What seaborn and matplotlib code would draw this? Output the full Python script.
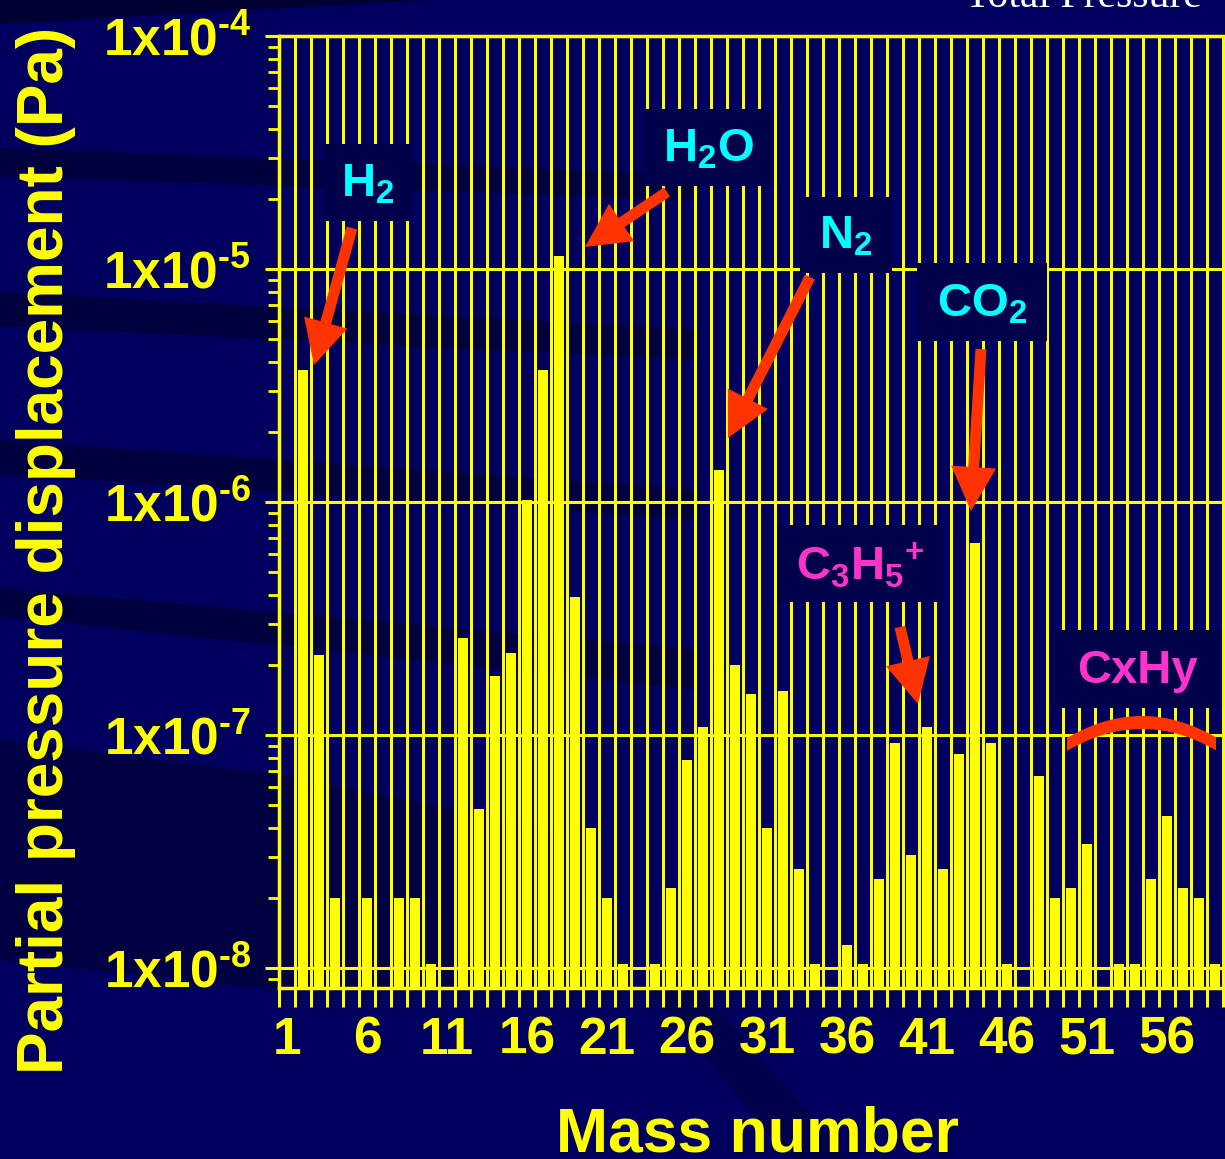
import numpy as np
import pandas as pd
import matplotlib
matplotlib.use("Agg")
import matplotlib.pyplot as plt
import seaborn as sns
from matplotlib.patches import Rectangle, Polygon, FancyArrow
from matplotlib.ticker import LogLocator, NullFormatter, FixedLocator

nan = np.nan

# ---------------- data ----------------
mass = list(range(1, 61))
pressure = [nan, 3.7e-6, 2.2e-7, 2.0e-8, nan, 2.0e-8, nan, 2.0e-8, 2.0e-8, 1.04e-8,
            nan, 2.6e-7, 4.8e-8, 1.8e-7, 2.25e-7, 1.02e-6, 3.7e-6, 1.14e-5, 3.9e-7, 4.0e-8,
            2.0e-8, 1.04e-8, nan, 1.04e-8, 2.2e-8, 7.8e-8, 1.08e-7, 1.37e-6, 2.0e-7, 1.5e-7,
            4.0e-8, 1.55e-7, 2.67e-8, 1.04e-8, nan, 1.25e-8, 1.04e-8, 2.4e-8, 9.2e-8, 3.05e-8,
            1.08e-7, 2.67e-8, 8.3e-8, 6.7e-7, 9.2e-8, 1.04e-8, nan, 6.7e-8, 2.0e-8, 2.2e-8,
            3.4e-8, nan, 1.04e-8, 1.04e-8, 2.4e-8, 4.5e-8, 2.2e-8, 2.0e-8, 1.04e-8, 3.2e-8]
x_tick_pos = [1, 6, 11, 16, 21, 26, 31, 36, 41, 46, 51, 56]
x_tick_labels = [str(v) for v in x_tick_pos]
y_tick_vals = [1e-8, 1e-7, 1e-6, 1e-5, 1e-4]
y_tick_labels = ["1x10$^{\u20108}$", "1x10$^{\u20107}$", "1x10$^{\u20106}$",
                 "1x10$^{\u20105}$", "1x10$^{\u20104}$"]
x_label = "Mass number"
y_label = "Partial pressure displacement (Pa)"

species = ["H$_{2}$", "H$_{2}$O", "N$_{2}$", "CO$_{2}$", "C$_{3}$H$_{5}{}^{+}$", "CxHy"]
species_colors = ["#00FFFF", "#00FFFF", "#00FFFF", "#00FFFF", "#FF33CC", "#FF33CC"]

# ---------------- style ----------------
BG = "#00005E"
YEL = "#FFFF00"
ARROW = "#FF3300"
BOX = "#00004A"

plt.rcParams["font.family"] = ["Liberation Sans", "DejaVu Sans"]
plt.rcParams["font.weight"] = "bold"
plt.rcParams["mathtext.fontset"] = "custom"
plt.rcParams["mathtext.rm"] = "Liberation Sans:bold"
plt.rcParams["mathtext.bf"] = "Liberation Sans:bold"
plt.rcParams["mathtext.it"] = "Liberation Sans:bold"
plt.rcParams["mathtext.default"] = "bf"

W, H = 1225, 1159
fig = plt.figure(figsize=(W / 100, H / 100), dpi=100, facecolor=BG)

# background streaks
bg = fig.add_axes([0, 0, 1, 1], zorder=-5)
bg.set_xlim(0, W)
bg.set_ylim(H, 0)
bg.axis("off")
dark = "#000022"
bands = [
    [(0, 0), (430, 0), (0, 24)],
    [(0, 148), (700, 175), (700, 200), (0, 176)],
    [(0, 292), (700, 330), (700, 360), (0, 326)],
    [(0, 440), (700, 490), (700, 520), (0, 474)],
    [(0, 588), (700, 650), (700, 690), (0, 616)],
    [(0, 740), (280, 775), (560, 830), (560, 990), (280, 990), (0, 960)],
    [(650, 990), (700, 990), (850, 1159), (790, 1159)],
]
alphas = [0.7, 0.5, 0.5, 0.5, 0.5, 0.45, 0.3]
for b, a in zip(bands, alphas):
    bg.add_patch(Polygon(b, closed=True, facecolor=dark, edgecolor="none", alpha=a))
bg.text(965, 7, "Total Pressure", color="white", fontsize=30, family="Liberation Serif",
        fontweight="normal", va="baseline", ha="left")

# main axes
xmin, xmax = 0.5, 59.8
left_px, top_px, bottom_px = 279, 36, 988
ax = fig.add_axes([left_px / W, (H - bottom_px) / H, (xmax - xmin) * 16 / W, (bottom_px - top_px) / H])
ax.set_facecolor("none")

df = pd.DataFrame({"mass": mass, "pressure": pressure})
sns.barplot(data=df, x="mass", y="pressure", native_scale=True, width=0.65,
            color=YEL, saturation=1, errorbar=None, edgecolor="none", linewidth=0,
            ax=ax, zorder=3)
ax.set_yscale("log")
ax.set_ylim(10 ** (-8 - 20 / 233.0), 1e-4)
ax.set_xlim(xmin, xmax)

ax.xaxis.set_major_locator(FixedLocator(np.arange(0.5, 61, 1.0)))
ax.xaxis.set_major_formatter(NullFormatter())
ax.set_xticks(x_tick_pos, minor=True)
ax.set_xticklabels(x_tick_labels, minor=True)
ax.tick_params(axis="x", which="major", direction="out", length=14, width=2.2, color=YEL)
ax.tick_params(axis="x", which="minor", length=0, pad=20, labelsize=37, labelcolor=YEL)

ax.set_yticks(y_tick_vals)
ax.set_yticklabels(y_tick_labels)
ax.yaxis.set_minor_locator(LogLocator(base=10, subs=np.arange(2, 10)))
ax.yaxis.set_minor_formatter(NullFormatter())
ax.tick_params(axis="y", which="major", direction="out", length=10, width=2.2, color=YEL,
               labelsize=37, labelcolor=YEL, pad=10)
ax.tick_params(axis="y", which="minor", direction="out", length=8, width=2, color=YEL)

ax.grid(True, which="major", axis="both", color=YEL, linewidth=2.2, zorder=1)
ax.set_axisbelow(True)
for s in ["left", "bottom", "top"]:
    ax.spines[s].set_color(YEL)
    ax.spines[s].set_linewidth(2.5)
ax.spines["right"].set_visible(False)

ax.set_xlabel(x_label, fontsize=45, color=YEL, fontweight="bold")
ax.xaxis.set_label_coords((757 - left_px) / ((xmax - xmin) * 16), (bottom_px - 1106) / (bottom_px - top_px))
ax.set_ylabel(y_label, fontsize=46, color=YEL, fontweight="bold")
ax.yaxis.set_label_coords((76 - left_px) / ((xmax - xmin) * 16), (bottom_px - 550) / (bottom_px - top_px))

# overlay for annotations (pixel coordinates)
ov = fig.add_axes([0, 0, 1, 1], zorder=10)
ov.set_xlim(0, W)
ov.set_ylim(H, 0)
ov.axis("off")
ov.set_facecolor("none")

boxes = [(323, 144, 413, 221), (643, 109, 773, 186), (800, 197, 892, 273),
         (917, 263, 1047, 341), (777, 525, 943, 602), (1055, 630, 1220, 708)]
for (x0, y0, x1, y1), lab, col in zip(boxes, species, species_colors):
    ov.add_patch(Rectangle((x0, y0), x1 - x0, y1 - y0, facecolor=BOX, edgecolor="none"))
    ov.text((x0 + x1) / 2, (y0 + y1) / 2 + 2, lab, color=col, fontsize=34,
            ha="center", va="center", fontweight="bold")

arrows = [((352, 228), (314, 365)), ((667, 192), (585, 247)), ((810, 277), (728, 438)),
          ((981, 349), (971, 511)), ((900, 627), (918, 704))]
for (sx, sy), (tx, ty) in arrows:
    ov.add_patch(FancyArrow(sx, sy, tx - sx, ty - sy, width=11, head_width=45,
                            head_length=44, length_includes_head=True,
                            facecolor=ARROW, edgecolor="none"))

xs = np.linspace(1067, 1216, 60)
ytop = 716 + 0.0039 * (xs - 1142) ** 2
ybot = ytop + 13
ov.add_patch(Polygon(np.vstack([np.column_stack([xs, ytop]),
                                np.column_stack([xs[::-1], ybot[::-1]])]),
                     closed=True, facecolor=ARROW, edgecolor="none"))

fig.savefig("out.png", dpi=100, facecolor=BG)
